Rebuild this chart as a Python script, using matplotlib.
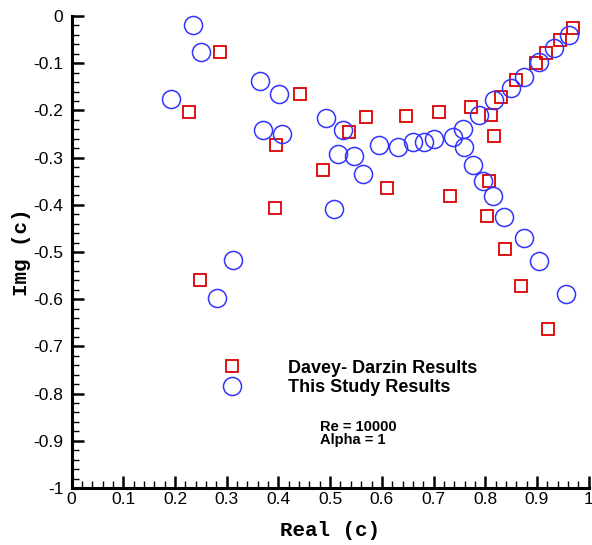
import matplotlib
matplotlib.use("Agg")
import matplotlib.pyplot as plt
from matplotlib.ticker import MultipleLocator, FuncFormatter

# Davey-Darzin results (squares)
dd_real = [0.286, 0.442, 0.227, 0.396, 0.487, 0.393, 0.248, 0.569, 0.646, 0.710,
           0.536, 0.609, 0.732, 0.808, 0.804, 0.838, 0.869, 0.922, 0.772, 0.811,
           0.817, 0.830, 0.859, 0.899, 0.917, 0.945, 0.969]
dd_img = [-0.076, -0.165, -0.203, -0.273, -0.327, -0.407, -0.559, -0.215, -0.211, -0.203,
          -0.246, -0.364, -0.382, -0.350, -0.424, -0.493, -0.571, -0.664, -0.192, -0.210,
          -0.254, -0.171, -0.136, -0.100, -0.078, -0.051, -0.026]

# This study results (circles)
ts_real = [0.234, 0.250, 0.365, 0.402, 0.192, 0.371, 0.407, 0.508, 0.313, 0.281,
           0.516, 0.491, 0.525, 0.594, 0.631, 0.661, 0.682, 0.700, 0.737, 0.547,
           0.563, 0.757, 0.759, 0.777, 0.795, 0.815, 0.836, 0.874, 0.903, 0.957,
           0.788, 0.817, 0.850, 0.875, 0.903, 0.932, 0.962]
ts_img = [-0.019, -0.077, -0.138, -0.165, -0.176, -0.241, -0.249, -0.408, -0.517, -0.597,
          -0.293, -0.216, -0.241, -0.273, -0.277, -0.266, -0.266, -0.261, -0.256, -0.297,
          -0.334, -0.240, -0.278, -0.315, -0.350, -0.381, -0.426, -0.470, -0.519, -0.589,
          -0.209, -0.178, -0.153, -0.129, -0.097, -0.068, -0.040]

labels = ["Davey- Darzin Results", "This Study Results"]
note_lines = ["Re = 10000", "Alpha = 1"]

plt.rcParams['font.family'] = ['Liberation Sans', 'DejaVu Sans']

fig = plt.figure(figsize=(5.92, 5.45), dpi=100)
ax = fig.add_axes([0.121, 0.1046, 0.8734, 0.866])

red = '#DD0000'
blue = '#3333FF'
ax.plot(dd_real, dd_img, linestyle='none', marker='s', markersize=8.6,
        markerfacecolor='none', markeredgecolor=red, markeredgewidth=1.3,
        label=labels[0], clip_on=False)
ax.plot(ts_real, ts_img, linestyle='none', marker='o', markersize=13,
        markerfacecolor='none', markeredgecolor=blue, markeredgewidth=1.1,
        label=labels[1], clip_on=False)

ax.set_xlim(0, 1)
ax.set_ylim(-1, 0)
for s in ['top', 'right']:
    ax.spines[s].set_visible(False)
for s in ['left', 'bottom']:
    ax.spines[s].set_linewidth(2.2)

ax.xaxis.set_major_locator(MultipleLocator(0.1))
ax.xaxis.set_minor_locator(MultipleLocator(0.02))
ax.yaxis.set_major_locator(MultipleLocator(0.1))
ax.yaxis.set_minor_locator(MultipleLocator(0.02))
fmt = FuncFormatter(lambda v, p: ('%g' % round(v, 2)) if abs(v) > 1e-9 else '0')
ax.xaxis.set_major_formatter(fmt)
ax.yaxis.set_major_formatter(fmt)
ax.tick_params(which='major', direction='in', length=8.6, width=1.8, labelsize=12.5)
ax.tick_params(which='minor', direction='in', length=5, width=1.0)
ax.tick_params(axis='y', which='major', pad=6)
ax.tick_params(axis='x', which='major', pad=3)

ax.set_xlabel('Real (c)', family='Liberation Mono', fontweight='bold', fontsize=15, labelpad=10)
ax.set_ylabel('Img (c)', family='Liberation Mono', fontweight='bold', fontsize=15, labelpad=2)

leg = ax.legend(loc='upper left', bbox_to_anchor=(0.293, 0.272), frameon=False,
                prop={'family': 'Liberation Sans', 'weight': 'bold', 'size': 13},
                handlelength=1.0, handletextpad=2.58, labelspacing=0.15, borderpad=0,
                borderaxespad=0)

ax.text(0.48, -0.871, note_lines[0], fontsize=10.5, fontweight='bold', ha='left', va='center')
ax.text(0.48, -0.898, note_lines[1], fontsize=10.5, fontweight='bold', ha='left', va='center')

fig.savefig('out.png', dpi=100)
